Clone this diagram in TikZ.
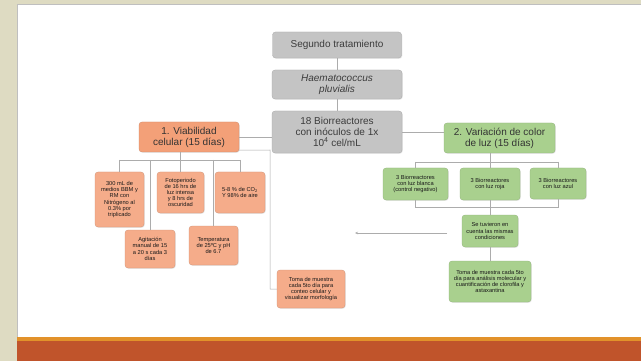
\documentclass[tikz,border=0pt]{standalone}
\usepackage{fontspec}
\setmainfont{Liberation Sans}
\usetikzlibrary{shadows,arrows.meta}

\definecolor{pageframe}{RGB}{222,219,194}
\definecolor{bandgold}{RGB}{226,146,42}
\definecolor{bandred}{RGB}{192,84,43}
\definecolor{boxgray}{RGB}{196,196,196}
\definecolor{boxorange}{RGB}{243,160,120}
\definecolor{boxpeach}{RGB}{245,172,138}
\definecolor{boxgreen}{RGB}{169,208,142}
\definecolor{linkgray}{RGB}{172,172,172}
\definecolor{inkgray}{RGB}{60,60,60}

\tikzset{
  basebox/.style={rounded corners=3pt, align=center, inner sep=1pt,
    drop shadow={opacity=0.18, shadow xshift=0.8pt, shadow yshift=-0.8pt}},
  mainbox/.style={basebox, fill=boxgray, draw=boxgray!85!black, line width=0.3pt,
    text=inkgray, font=\fontsize{10}{11}\selectfont},
  orangehead/.style={basebox, fill=boxorange, draw=boxorange!85!black, line width=0.3pt,
    text=black!80, font=\fontsize{10}{11}\selectfont},
  greenhead/.style={basebox, fill=boxgreen, draw=boxgreen!85!black, line width=0.3pt,
    text=black!80, font=\fontsize{10}{11}\selectfont},
  orangeleaf/.style={basebox, fill=boxpeach, draw=boxpeach!85!black, line width=0.3pt,
    text=black!90, font=\fontsize{5.7}{6.2}\selectfont},
  greenleaf/.style={basebox, fill=boxgreen, draw=boxgreen!85!black, line width=0.3pt,
    text=black!90, font=\fontsize{5.7}{6.2}\selectfont},
  link/.style={draw=linkgray, line width=0.5pt},
  sz/.style 2 args={minimum width=#1pt, minimum height=#2pt}
}

\begin{document}
\begin{tikzpicture}[x=1pt,y=-1pt]
\useasboundingbox (0,0) rectangle (641,361);

% slide frame
\fill[pageframe] (0,0) rectangle (641,361);
\fill[white] (17,4) rectangle (641,337);
\draw[black!25, line width=0.6pt] (17,361) -- (17,4) -- (641,4);
\fill[bandgold] (17,337) rectangle (641,341);
\fill[bandred] (17,341) rectangle (641,361);

% trunk
\node[mainbox, sz={129}{26}] (seg) at (337,45) {Segundo tratamiento};
\node[mainbox, sz={130}{29}] (hae) at (337,84.5) {\itshape Haematococcus\\\itshape pluvialis};
\node[mainbox, sz={130}{42}] (bio) at (337,132) {18 Biorreactores\\con inóculos de 1x\\10\textsuperscript{4} cel/mL};

% branch heads
\node[orangehead, sz={100}{30}] (via) at (189,137) {1. Viabilidad\\celular (15 días)};
\node[greenhead, sz={111}{30}] (var) at (499.5,138) {2. Variación de color\\de luz (15 días)};

% left branch leaves
\node[orangeleaf, sz={49}{55}] (med) at (119.5,199.5) {300 mL de\\medios BBM y\\RM con\\Nitrógeno al\\0.3\% por\\triplicado};
\node[orangeleaf, sz={47}{41}] (foto) at (180.5,192.5) {Fotoperiodo\\de 16 hrs de\\luz intensa\\y 8 hrs de\\oscuridad};
\node[orangeleaf, sz={50}{41}] (co2) at (240,192.5) {5-8 \% de CO\textsubscript{2}\\Y 98\% de aire};
\node[orangeleaf, sz={50}{38}] (agi) at (150,249) {Agitación\\manual de 15\\a 20 s cada 3\\días};
\node[orangeleaf, sz={49}{39}] (temp) at (213.5,245.5) {Temperatura\\de 25ºC y pH\\de 6.7};
\node[orangeleaf, sz={68}{38}] (tomaL) at (311,289) {Toma de muestra\\cada 5to día para\\conteo celular y\\visualizar morfología};

% right branch leaves
\node[greenleaf, sz={65}{32}] (g1) at (415.5,184) {3 Biorreactores\\con luz blanca\\(control negativo)};
\node[greenleaf, sz={60}{32}] (g2) at (490,184) {3 Biorreactores\\con luz roja};
\node[greenleaf, sz={56}{31}] (g3) at (558,183.5) {3 Biorreactores\\con luz azul};
\node[greenleaf, sz={56}{32}] (se) at (490,231) {Se tuvieron en\\cuenta las mismas\\condiciones};
\node[greenleaf, sz={82}{41}] (tomaR) at (490,281.5) {Toma de muestra cada 5to\\día para análisis molecular y\\cuantificación de clorofila y\\astaxantina};

% connector junctions
\coordinate (lbar) at (0,160);
\coordinate (rtop) at (0,162);
\coordinate (rbot) at (0,207);
\coordinate (lbend) at (270,150);
\coordinate (arrS) at (447,233);
\coordinate (arrE) at (355,233);

% trunk links
\draw[link] (seg) -- (hae);
\draw[link] (hae) -- (bio);
\draw[link] (via.east) -- (via.east -| bio.west);
\draw[link] (bio.east) -- (bio.east -| var.west);

% left tree
\draw[link] (foto.north |- via.south) -- (foto.north);
\draw[link] (med.north |- lbar) -- (co2.north |- lbar);
\draw[link] (med.north |- lbar) -- (med.north);
\draw[link] (agi.north |- lbar) -- (agi.north);
\draw[link] (temp.north |- lbar) -- (temp.north);
\draw[link] (co2.north |- lbar) -- (co2.north);
\draw[link] ([yshift=2pt]via.south east) -- (lbend) |- (tomaL.west);

% right tree
\draw[link] (g2.north |- var.south) -- (g2.north);
\draw[link] (g1.north |- rtop) -- (g3.north |- rtop);
\draw[link] (g1.north |- rtop) -- (g1.north);
\draw[link] (g3.north |- rtop) -- (g3.north);
\draw[link] (g1.south) -- (g1.south |- rbot) -- (g3.south |- rbot) -- (g3.south);
\draw[link] (g2.south) -- (se.north);
\draw[link] (se.south) -- (tomaR.north);
\draw[link, -{Stealth[length=3pt, width=2.5pt]}] (arrS) -- (arrE);
\end{tikzpicture}
\end{document}
